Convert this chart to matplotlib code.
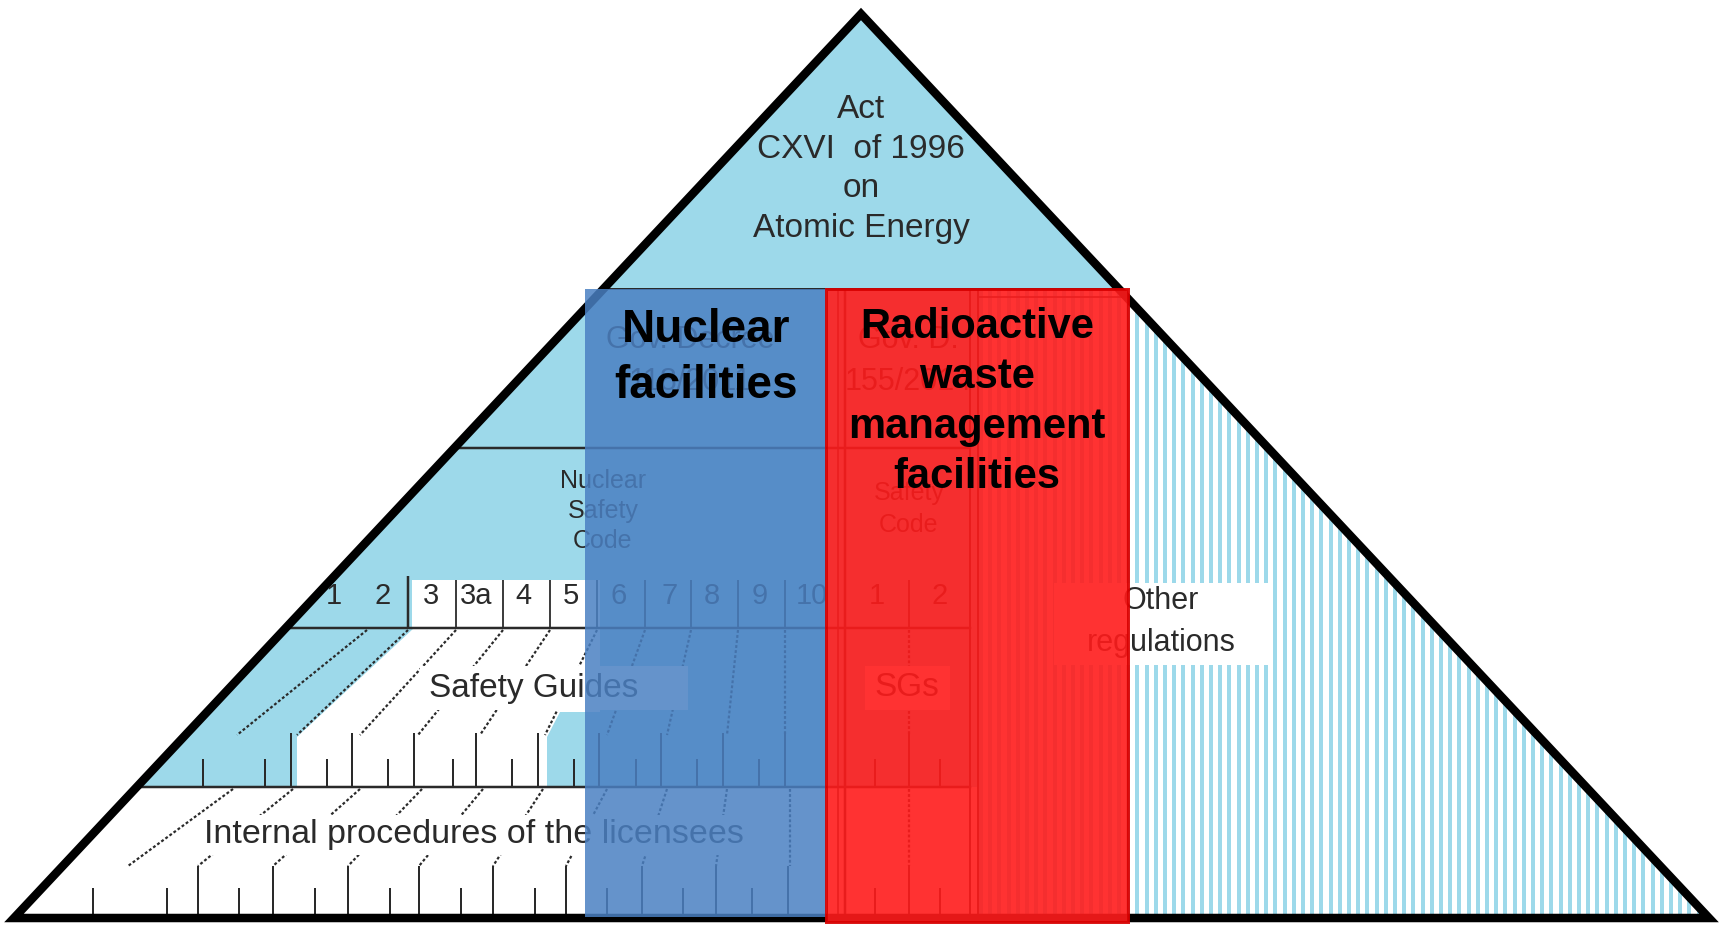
import numpy as np
import matplotlib.pyplot as plt
from matplotlib.patches import Polygon, Rectangle

plt.rcParams['font.family'] = ['Liberation Sans', 'DejaVu Sans']

# pyramid geometry, in image pixels (y grows downwards)
apex = (861, 14)
base_y = 918
base_left, base_right = 14, 1709

# section boundaries
act_y = 289
decree_y = 448
row_top = 580
row_y = 628
sg_y = 787

# numbered row of the Nuclear Safety Code
row_seps = [408, 456, 503, 550, 597, 645, 691, 738, 785]
row_labels = ['1', '2', '3', '3a', '4', '5', '6', '7', '8', '9', '10']
row_label_x = [334, 383, 431, 476, 523, 571, 619, 670, 712, 760, 812]
rw_seps = [909]
rw_labels = ['1', '2']
rw_label_x = [877, 940]

# safety guide ticks and links
sg_tall = [291, 352, 414, 476, 538, 599, 661, 723, 785, 909]
sg_short = [203, 265, 327, 388, 453, 512, 574, 636, 697, 759, 875, 940]
sg_link_top = [367, 408, 456, 503, 550, 597, 645, 691, 738, 785, 909]
sg_link_bot = [237, 297, 360, 418, 480, 545, 607, 667, 727, 785, 909]

# internal procedure ticks and links
ip_tall = [198, 273, 348, 419, 493, 566, 642, 716, 788, 909]
ip_short = [93, 167, 239, 315, 390, 461, 535, 607, 683, 752, 875, 940]
ip_link_top = [233, 293, 360, 422, 483, 543, 607, 667, 727, 790, 909]
ip_link_bot = [128, 198, 273, 348, 419, 493, 566, 642, 716, 790, 909]

LBLUE = '#9dd9ea'
INK = '#2a2a2a'
PX = 0.72  # points per pixel at dpi 100


def xl(y):
    return apex[0] - (y - apex[1]) * (apex[0] - base_left) / (base_y - apex[1])


def xr(y):
    return apex[0] + (y - apex[1]) * (base_right - apex[0]) / (base_y - apex[1])


fig = plt.figure(figsize=(17.21, 9.25), dpi=100)
ax = fig.add_axes([0, 0, 1, 1])
ax.set_xlim(0, 1721)
ax.set_ylim(925, 0)
ax.axis('off')

tri = [apex, (base_left, base_y), (base_right, base_y)]
ax.add_patch(Polygon(tri, closed=True, fc=LBLUE, ec='none', zorder=1))

# white bottom band (internal procedures)
ax.add_patch(Polygon([(xl(sg_y), sg_y), (978, sg_y), (978, base_y), (xl(base_y), base_y)],
                     fc='white', ec='none', zorder=2))

# striped "other regulations" part
stripe_poly = Polygon([(978, act_y), (xr(act_y), act_y), (xr(base_y), base_y), (978, base_y)],
                      fc='white', ec='none', zorder=2)
ax.add_patch(stripe_poly)
stripes = ax.vlines(np.arange(981, 1712, 9.2), act_y, base_y, color=LBLUE, lw=4 * PX, zorder=2.5)
stripes.set_clip_path(stripe_poly)

# white areas of the safety guides / code row
ax.add_patch(Polygon([(414, row_y), (600, row_y), (600, 712), (560, 712), (547, 737),
                      (547, sg_y), (297, sg_y), (297, 737)], fc='white', ec='none', zorder=3))
ax.add_patch(Rectangle((412, row_top), 188, row_y - row_top, fc='white', ec='none', zorder=3))

# structure lines
for y in [decree_y, row_y, sg_y]:
    ax.plot([xl(y), 970], [y, y], color=INK, lw=2.5 * PX, zorder=4)
ax.plot([xl(act_y), xr(act_y)], [act_y, act_y], color=INK, lw=2 * PX, zorder=4)
ax.plot([978, xr(297)], [297, 297], color=INK, lw=1.5 * PX, zorder=4)
ax.vlines([838, 845, 970, 978], act_y, base_y, color=INK, lw=[1.5 * PX, 2.5 * PX, 2 * PX, 2 * PX], zorder=4)
ax.vlines(row_seps[:1], row_top - 4, row_y, color=INK, lw=2.5 * PX, zorder=4)
ax.vlines(row_seps[1:] + rw_seps, row_top, row_y, color=INK, lw=1.8 * PX, zorder=4)

# ticks
ax.vlines(sg_tall, 733, sg_y, color=INK, lw=2 * PX, zorder=4)
ax.vlines(sg_short, 759, sg_y, color=INK, lw=2 * PX, zorder=4)
ax.vlines(ip_tall, 866, base_y, color=INK, lw=2 * PX, zorder=4)
ax.vlines(ip_short, 888, base_y, color=INK, lw=2 * PX, zorder=4)

# dotted links between levels
for t, b in zip(sg_link_top, sg_link_bot):
    ax.plot([t, b], [row_y + 2, 735], color=INK, lw=2.2 * PX, ls=(0, (1.3, 1.0)), zorder=3.5)
for t, b in zip(ip_link_top, ip_link_bot):
    ax.plot([t, b], [sg_y + 2, 866], color=INK, lw=2.2 * PX, ls=(0, (1.3, 1.0)), zorder=3.5)

# label backgrounds
ax.add_patch(Rectangle((420, 666), 268, 44, fc='white', ec='none', zorder=4.5))
ax.add_patch(Rectangle((865, 666), 85, 44, fc='white', ec='none', zorder=4.5))
ax.add_patch(Rectangle((200, 815), 560, 40, fc='white', ec='none', zorder=4.5))
ax.add_patch(Rectangle((1054, 583), 214, 82, fc='white', ec='none', zorder=4.5))

# pyramid outline
ax.add_patch(Polygon(tri, closed=True, fill=False, ec='black', lw=8.5 * PX,
                     joinstyle='miter', zorder=5))

txt = dict(color=INK, ha='center', va='center', zorder=6)
ax.text(861, 169, 'Act\nCXVI  of 1996\non\nAtomic Energy', fontsize=24, linespacing=1.36, **txt)
ax.text(690, 361, 'Gov. Decree\n118/2011', fontsize=22, linespacing=1.55, **txt)
ax.text(908, 361, 'Gov. D.\n155/2014', fontsize=22, linespacing=1.55, **txt)
ax.text(603, 511, 'Nuclear\nSafety\nCode', fontsize=18, linespacing=1.32, **txt)
ax.text(909, 509, 'Safety\nCode', fontsize=18, linespacing=1.4, **txt)
for lab, x in zip(row_labels + rw_labels, row_label_x + rw_label_x):
    ax.text(x, 596, lab, fontsize=21, **txt)
ax.text(534, 688, 'Safety Guides', fontsize=24, **txt)
ax.text(907, 688, 'SGs', fontsize=24, **txt)
ax.text(474, 834, 'Internal procedures of the licensees', fontsize=24.5, **txt)
ax.text(1161, 622, 'Other\nregulations', fontsize=22, linespacing=1.5, **txt)

# facility overlays
ax.add_patch(Rectangle((585, act_y), 241, 917 - act_y, fc='#4a80c2', ec='none', alpha=0.85, zorder=7))
ax.add_patch(Rectangle((826, act_y), 302, 922 - act_y, fc='#ff1b1b', ec='#d80000', lw=3 * PX,
                       alpha=0.9, zorder=7))

ax.text(706, 358, 'Nuclear\nfacilities', fontsize=33, fontweight='bold', color='black',
        ha='center', va='center', linespacing=1.33, zorder=8)
ax.text(977, 402, 'Radioactive\nwaste\nmanagement\nfacilities', fontsize=30, fontweight='bold',
        color='black', ha='center', va='center', linespacing=1.33, zorder=8)

fig.savefig('out.png', dpi=100)
